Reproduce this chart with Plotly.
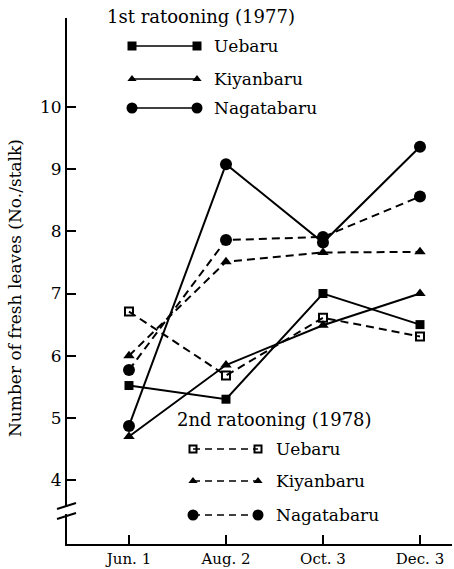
import plotly.graph_objects as go

dates = ["Jun. 1", "Aug. 2", "Oct. 3", "Dec. 3"]
y_ticks = [4, 5, 6, 7, 8, 9, 10]

# 1st ratooning (1977)
uebaru_1977 = [5.52, 5.30, 7.00, 6.50]
kiyanbaru_1977 = [4.70, 5.85, 6.49, 7.00]
nagatabaru_1977 = [4.87, 9.08, 7.82, 9.36]

# 2nd ratooning (1978)
uebaru_1978 = [6.71, 5.68, 6.61, 6.31]
kiyanbaru_1978 = [6.00, 7.51, 7.66, 7.67]
nagatabaru_1978 = [5.77, 7.86, 7.91, 8.56]

FONT = "DejaVu Serif"
W, H = 454, 569
L, R, T, B = 67, 2, 18, 25
PW, PH = W - L - R, H - T - B


def px(x):
    return (x - L) / PW


def py(y):
    return (H - B - y) / PH


xi = list(range(len(dates)))

series = [
    (uebaru_1977, "solid", "square", 9, 0),
    (kiyanbaru_1977, "solid", "triangle-up", 10, 0),
    (nagatabaru_1977, "solid", "circle", 12, 0),
    (uebaru_1978, "dash", "square-open", 8, 2),
    (kiyanbaru_1978, "dash", "triangle-up", 10, 0),
    (nagatabaru_1978, "dash", "circle", 12, 0),
]

fig = go.Figure()
for vals, dash, sym, size, lw in series:
    fig.add_trace(go.Scatter(
        x=xi, y=vals, mode="lines+markers",
        line=dict(color="black", width=2, dash="8px,5px" if dash == "dash" else "solid"),
        marker=dict(symbol=sym, size=size, color="black", line=dict(color="black", width=lw)),
        showlegend=False, cliponaxis=False,
    ))

# custom legend samples on a pixel overlay axis
legend1 = [("Uebaru", "square", 9, 0, "solid", 46),
           ("Kiyanbaru", "triangle-up", 8, 0, "solid", 79),
           ("Nagatabaru", "circle", 11, 0, "solid", 108)]
legend2 = [("Uebaru", "square-open", 7, 2, "dash", 449),
           ("Kiyanbaru", "triangle-up", 8, 0, "dash", 481),
           ("Nagatabaru", "circle", 11, 0, "dash", 515)]

annots = []
for entries, x0, x1, xt in [(legend1, 132, 197, 212), (legend2, 193, 258, 274)]:
    for name, sym, size, lw, dash, yy in entries:
        fig.add_trace(go.Scatter(
            x=[x0, x1], y=[yy, yy], xaxis="x2", yaxis="y2", mode="lines+markers",
            line=dict(color="black", width=1.6, dash="7px,5px" if dash == "dash" else "solid"),
            marker=dict(symbol=sym, size=size, color="black", line=dict(color="black", width=lw)),
            showlegend=False, cliponaxis=False, hoverinfo="skip",
        ))
        annots.append(dict(x=px(xt), y=py(yy), xref="paper", yref="paper", text=name, showarrow=False,
                           xanchor="left", yanchor="middle",
                           font=dict(family=FONT, size=17, color="black")))

annots.append(dict(x=px(105), y=py(16), xref="paper", yref="paper", text="1st ratooning (1977)",
                   showarrow=False, xanchor="left", yanchor="middle",
                   font=dict(family=FONT, size=18, color="black")))
annots.append(dict(x=px(175), y=py(419), xref="paper", yref="paper", text="2nd ratooning (1978)",
                   showarrow=False, xanchor="left", yanchor="middle",
                   font=dict(family=FONT, size=18, color="black")))
annots.append(dict(x=px(15), y=py(288), xref="paper", yref="paper",
                   text="Number of fresh leaves (No./stalk)",
                   showarrow=False, textangle=-90, xanchor="center", yanchor="middle",
                   font=dict(family=FONT, size=17, color="black")))

shapes = [
    dict(type="rect", xref="paper", yref="paper", x0=px(60), x1=px(75), y0=py(514), y1=py(507),
         fillcolor="white", line=dict(width=0), layer="above"),
    dict(type="line", xref="paper", yref="paper", x0=px(57), y0=py(509), x1=px(76), y1=py(503),
         line=dict(color="black", width=2), layer="above"),
    dict(type="line", xref="paper", yref="paper", x0=px(57), y0=py(519), x1=px(76), y1=py(513),
         line=dict(color="black", width=2), layer="above"),
]

fig.update_layout(
    width=W, height=H, margin=dict(l=L, r=R, t=T, b=B),
    paper_bgcolor="white", plot_bgcolor="white",
    font=dict(family=FONT, size=15, color="black"),
    annotations=annots, shapes=shapes,
    xaxis=dict(range=[-0.639, 3.33], tickvals=xi, ticktext=dates, showgrid=False, zeroline=False,
               showline=True, linecolor="black", linewidth=2, ticks="inside", ticklen=9,
               tickwidth=2, tickcolor="black", tickfont=dict(family=FONT, size=15)),
    yaxis=dict(range=[2.971, 11.432], tickvals=y_ticks, showgrid=False, zeroline=False,
               showline=True, linecolor="black", linewidth=2, ticks="inside", ticklen=9,
               tickwidth=2, tickcolor="black", tickfont=dict(family=FONT, size=17)),
    xaxis2=dict(overlaying="x", range=[L, W - R], visible=False),
    yaxis2=dict(overlaying="y", range=[H - B, T], visible=False),
)

fig.write_html("out.html", config={"displayModeBar": False},
               post_script="document.body.style.margin='0';document.body.style.overflow='hidden';")
